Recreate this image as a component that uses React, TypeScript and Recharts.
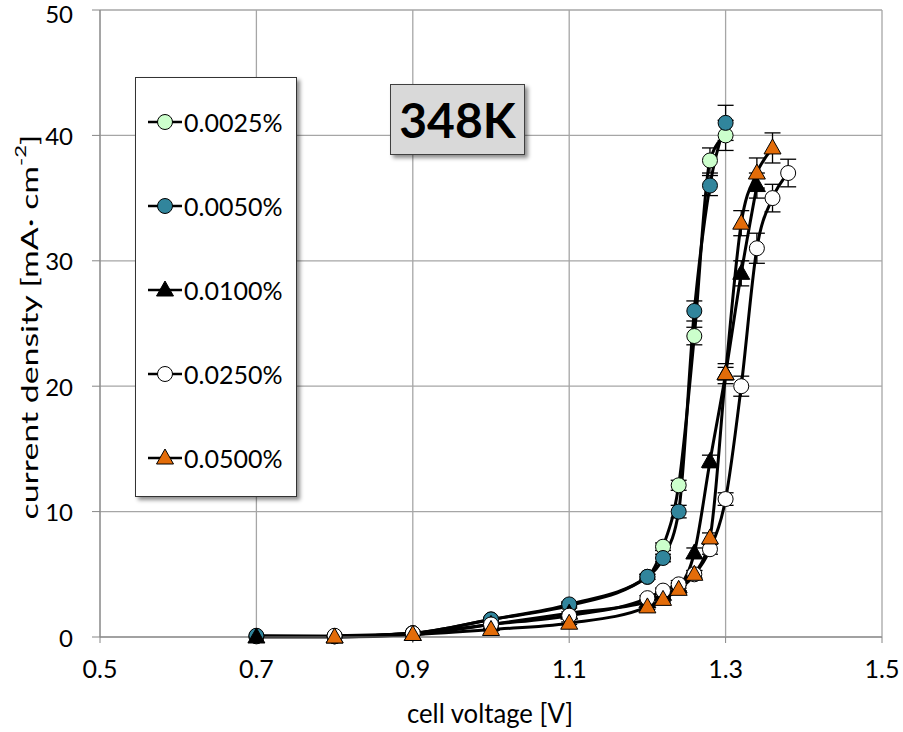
import React from 'react';
import { LineChart, Line, XAxis, YAxis, CartesianGrid, ErrorBar } from 'recharts';

// cell voltage [V] and current density [mA cm-2] per concentration
const v0025 = [0.7, 0.8, 0.9, 1.0, 1.1, 1.2, 1.22, 1.24, 1.26, 1.28, 1.3];
const j0025 = [0.05, 0.05, 0.3, 1.4, 2.5, 4.8, 7.2, 12.1, 24, 38, 40];
const e0025 = [0, 0, 0, 0.1, 0.2, 0.2, 0.3, 0.4, 0.7, 1.0, 1.2];

const v0050 = [0.7, 0.8, 0.9, 1.0, 1.1, 1.2, 1.22, 1.24, 1.26, 1.28, 1.3];
const j0050 = [0.1, 0.05, 0.3, 1.4, 2.6, 4.8, 6.3, 10, 26, 36, 41];
const e0050 = [0, 0, 0, 0.1, 0.2, 0.2, 0.3, 0.5, 0.8, 0.8, 1.4];

const v0100 = [0.7, 0.8, 0.9, 1.0, 1.1, 1.2, 1.22, 1.24, 1.26, 1.28, 1.3, 1.32, 1.34];
const j0100 = [0, 0, 0.2, 1.0, 1.9, 2.8, 3.4, 4.0, 6.7, 14, 21, 29, 36];
const e0100 = [0, 0, 0, 0.1, 0.1, 0.2, 0.2, 0.3, 0.4, 0.5, 0.8, 1.0, 1.0];

const v0250 = [0.8, 0.9, 1.0, 1.1, 1.2, 1.22, 1.24, 1.26, 1.28, 1.3, 1.32, 1.34, 1.36, 1.38];
const j0250 = [0.1, 0.3, 1.0, 1.7, 3.1, 3.7, 4.2, 5.0, 7.0, 11, 20, 31, 35, 37];
const e0250 = [0, 0, 0.1, 0.1, 0.2, 0.2, 0.3, 0.3, 0.4, 0.5, 0.8, 1.2, 1.1, 1.1];

const v0500 = [0.8, 0.9, 1.0, 1.1, 1.2, 1.22, 1.24, 1.26, 1.28, 1.3, 1.32, 1.34, 1.36];
const j0500 = [0, 0.2, 0.6, 1.1, 2.4, 3.0, 3.8, 5.0, 7.9, 21, 33, 37, 39];
const e0500 = [0, 0, 0.1, 0.1, 0.2, 0.2, 0.3, 0.3, 0.4, 0.5, 1.0, 1.2, 1.2];

const xTicks = [0.5, 0.7, 0.9, 1.1, 1.3, 1.5];
const yTicks = [0, 10, 20, 30, 40, 50];

const toRows = (v: number[], j: number[], e: number[]) =>
  v.map((x, i) => ({ x, y: j[i], e: e[i] }));

const series = [
  { name: '0.0025%', data: toRows(v0025, j0025, e0025), fill: '#ccffcc', shape: 'circle' },
  { name: '0.0050%', data: toRows(v0050, j0050, e0050), fill: '#31859c', shape: 'circle' },
  { name: '0.0100%', data: toRows(v0100, j0100, e0100), fill: '#000000', shape: 'triangle' },
  { name: '0.0250%', data: toRows(v0250, j0250, e0250), fill: '#ffffff', shape: 'circle' },
  { name: '0.0500%', data: toRows(v0500, j0500, e0500), fill: '#e36c09', shape: 'triangle' },
];

const FONT = 'Lato, "Open Sans", sans-serif';

function Marker({ cx, cy, fill, shape }: { cx: number; cy: number; fill: string; shape: string }) {
  if (shape === 'triangle') {
    return (
      <polygon
        points={`${cx},${cy - 9} ${cx - 8.5},${cy + 6} ${cx + 8.5},${cy + 6}`}
        fill={fill}
        stroke="#000"
        strokeWidth={1}
      />
    );
  }
  return <circle cx={cx} cy={cy} r={7.5} fill={fill} stroke="#000" strokeWidth={1} />;
}

export default function App() {
  return (
    <div style={{ position: 'absolute', left: 0, top: 0, width: 903, height: 732, background: '#fff', fontFamily: FONT }}>
      <LineChart width={903} height={732} margin={{ top: 10, right: 21, bottom: 65, left: 40 }}>
        <CartesianGrid stroke="#a6a6a6" strokeWidth={1.3} />
        <XAxis
          type="number"
          dataKey="x"
          domain={[0.5, 1.5]}
          ticks={xTicks}
          tickFormatter={(v: number) => v.toFixed(1)}
          allowDataOverflow
          height={30}
          stroke="#868686"
          tickSize={6}
          tickMargin={17}
          tick={{ fill: '#000', fontSize: 25, fontFamily: FONT }}
        />
        <YAxis
          type="number"
          dataKey="y"
          domain={[0, 50]}
          ticks={yTicks}
          width={60}
          stroke="#868686"
          tickSize={8}
          tickMargin={19}
          tick={{ fill: '#000', fontSize: 24, fontFamily: FONT, dy: 1 }}
        />
        {series.map((s) => (
          <Line
            key={s.name}
            data={s.data}
            dataKey="y"
            name={s.name}
            type="monotone"
            stroke="#000"
            strokeWidth={3}
            isAnimationActive={false}
            dot={(p: any) => <Marker key={`${s.name}-${p.index}`} cx={p.cx} cy={p.cy} fill={s.fill} shape={s.shape} />}
            activeDot={false}
          >
            <ErrorBar dataKey="e" direction="y" width={8} stroke="#000" strokeWidth={1.3} />
          </Line>
        ))}
        <text
          x={29}
          y={327}
          transform="rotate(-90 29 327)"
          textAnchor="middle"
          dominantBaseline="central"
          fontSize={23}
          fontFamily={FONT}
          fill="#000"
          textLength={385}
          lengthAdjust="spacingAndGlyphs"
        >
          current density [mA· cm<tspan fontSize={15} dy={-9}>-2</tspan><tspan dy={9}>]</tspan>
        </text>
        <text
          x={490}
          y={723}
          textAnchor="middle"
          fontSize={26}
          fontFamily={FONT}
          fill="#000"
          textLength={166}
          lengthAdjust="spacingAndGlyphs"
        >
          cell voltage [V]
        </text>
      </LineChart>

      <div
        style={{
          position: 'absolute',
          left: 135,
          top: 77,
          width: 160,
          height: 418,
          background: '#fff',
          border: '1.5px solid #333',
          boxShadow: '3px 3px 4px rgba(0,0,0,0.45)',
        }}
      >
        {series.map((s, i) => (
          <div
            key={s.name}
            style={{ position: 'absolute', left: 10, top: 29 + i * 84, height: 30, display: 'flex', alignItems: 'center' }}
          >
            <svg width={38} height={30}>
              <line x1={2} y1={15} x2={36} y2={15} stroke="#000" strokeWidth={2.5} />
              <Marker cx={19} cy={15} fill={s.fill} shape={s.shape} />
            </svg>
            <span style={{ fontSize: 25, color: '#000', marginLeft: 0 }}>{s.name}</span>
          </div>
        ))}
      </div>

      <div
        style={{
          position: 'absolute',
          left: 390,
          top: 84,
          width: 133,
          height: 69,
          background: '#d9d9d9',
          border: '1.5px solid #404040',
          boxShadow: '3px 3px 4px rgba(0,0,0,0.45)',
          display: 'flex',
          alignItems: 'center',
          justifyContent: 'center',
          fontSize: 48,
          fontWeight: 'bold',
          color: '#000',
        }}
      >
        348K
      </div>
    </div>
  );
}
